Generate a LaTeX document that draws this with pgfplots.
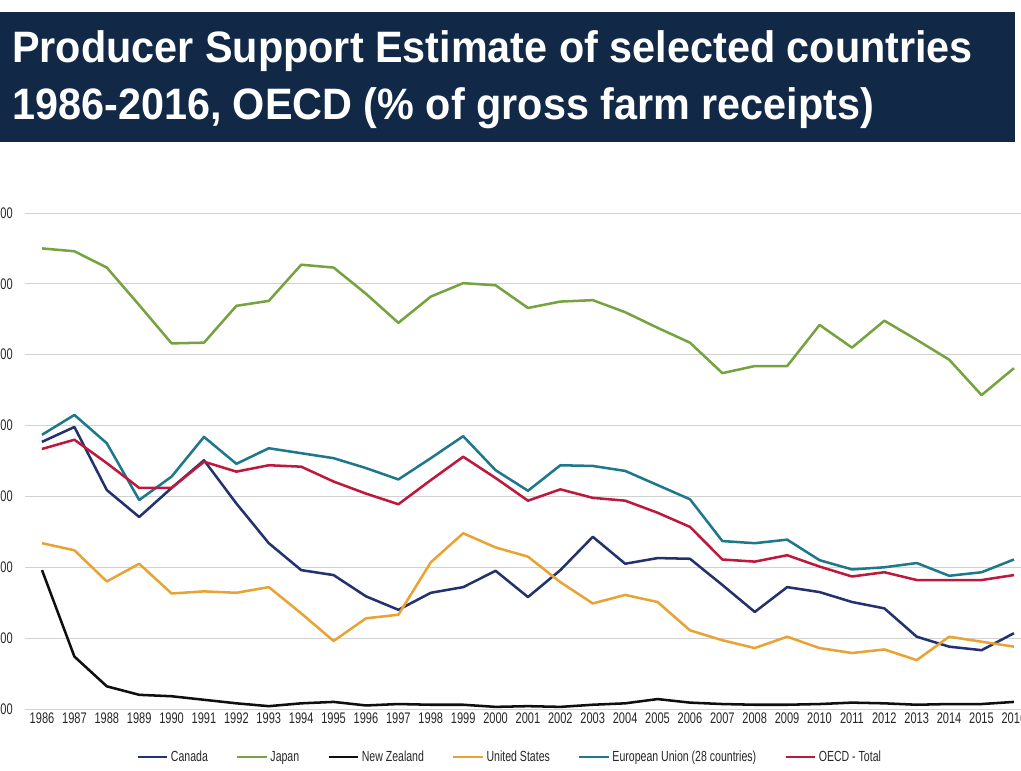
\documentclass[border=0pt]{standalone}
\usepackage{fontspec}
\setmainfont{Liberation Sans}
\newfontfamily\narrowfont{Liberation Sans}[FakeStretch=0.72]
\newfontfamily\titlefont{Liberation Sans}[FakeStretch=0.94]
\usepackage{pgfplots}
\pgfplotsset{compat=1.18}
\usepackage{pgfplotstable}

\definecolor{titlenavy}{RGB}{17,41,71}
\definecolor{cancol}{RGB}{35,50,110}
\definecolor{jpncol}{RGB}{118,163,63}
\definecolor{nzlcol}{RGB}{15,15,15}
\definecolor{usacol}{RGB}{232,163,52}
\definecolor{eucol}{RGB}{30,120,140}
\definecolor{oecdcol}{RGB}{190,25,60}

% PSE, % of gross farm receipts
\pgfplotstableread{
year can  jpn  nzl  usa  eu   oecd
1986 37.7 65.0 19.6 23.4 38.7 36.7
1987 39.8 64.6 7.4  22.4 41.5 38.0
1988 30.9 62.3 3.2  18.0 37.5 34.7
1989 27.1 57.0 2.0  20.5 29.5 31.2
1990 31.2 51.6 1.8  16.3 32.8 31.2
1991 35.1 51.7 1.3  16.6 38.4 34.9
1992 29.0 56.9 0.8  16.4 34.6 33.5
1993 23.4 57.6 0.4  17.2 36.8 34.4
1994 19.6 62.7 0.8  13.5 36.1 34.2
1995 18.9 62.3 1.0  9.6  35.4 32.1
1996 15.9 58.6 0.5  12.8 34.0 30.4
1997 14.0 54.5 0.7  13.3 32.4 28.9
1998 16.4 58.2 0.6  20.7 35.4 32.3
1999 17.2 60.1 0.6  24.8 38.5 35.6
2000 19.5 59.8 0.3  22.8 33.7 32.6
2001 15.8 56.6 0.4  21.5 30.8 29.4
2002 19.6 57.5 0.3  17.9 34.4 31.0
2003 24.3 57.7 0.6  14.9 34.3 29.8
2004 20.5 56.0 0.8  16.1 33.6 29.4
2005 21.3 53.8 1.4  15.1 31.6 27.7
2006 21.2 51.7 0.9  11.1 29.6 25.7
2007 17.5 47.4 0.7  9.7  23.7 21.1
2008 13.7 48.4 0.6  8.6  23.4 20.8
2009 17.2 48.4 0.6  10.2 23.9 21.7
2010 16.5 54.2 0.7  8.6  21.0 20.1
2011 15.1 51.0 0.9  7.9  19.7 18.7
2012 14.2 54.8 0.8  8.4  20.0 19.3
2013 10.2 52.1 0.6  6.9  20.6 18.2
2014 8.8  49.3 0.7  10.2 18.8 18.2
2015 8.3  44.3 0.7  9.5  19.3 18.2
2016 10.7 48.1 1.0  8.8  21.1 18.9
}\psedata

\begin{document}
\begin{tikzpicture}
\useasboundingbox (0,0) rectangle (765.75pt,578.25pt);
\fill[titlenavy] (0,471.75pt) rectangle (761.25pt,569.25pt);
\node[anchor=base west, inner sep=0pt, text=white,
      font=\titlefont\bfseries\fontsize{33}{33}\selectfont]
  at (9pt,531pt) {Producer Support Estimate of selected countries};
\node[anchor=base west, inner sep=0pt, text=white,
      font=\titlefont\bfseries\fontsize{33}{33}\selectfont]
  at (9pt,488.5pt) {1986-2016, OECD (\% of gross farm receipts)};

\begin{axis}[
    at={(18.75pt,46.5pt)}, anchor=south west,
    scale only axis, width=756.3pt, height=372pt,
    xmin=1985.475, xmax=2016.6, ymin=0, ymax=70,
    axis line style={draw=none},
    tick style={draw=none},
    xtick={1986,...,2016}, ytick={0,10,...,70},
    ymajorgrids,
    major grid style={line width=0.7pt, black!18},
    /pgf/number format/assume math mode=true,
    /pgf/number format/1000 sep={},
    xticklabel style={font=\narrowfont\fontsize{11.5}{11.5}\selectfont,
        inner sep=0pt, text=black!85},
    xticklabel shift=3pt,
    yticklabel style={/pgf/number format/.cd, fixed, fixed zerofill,
        precision=2, /tikz/.cd,
        font=\narrowfont\fontsize{11.5}{11.5}\selectfont,
        inner sep=0pt, text=black!85},
    yticklabel shift=9pt,
    every axis plot/.append style={line width=1.9pt, line join=round},
    legend columns=6,
    legend style={draw=none, fill=none,
        at={(axis description cs:0.481,-0.097)}, anchor=center,
        font=\narrowfont\fontsize{11}{11}\selectfont, text=black!85,
        /tikz/every even column/.append style={column sep=19pt}},
    legend image code/.code={\draw[#1] (0pt,0pt) -- (22pt,0pt);},
]
\addplot[cancol]  table[x=year, y=can]  {\psedata};
\addlegendentry{Canada}
\addplot[jpncol]  table[x=year, y=jpn]  {\psedata};
\addlegendentry{Japan}
\addplot[nzlcol]  table[x=year, y=nzl]  {\psedata};
\addlegendentry{New Zealand}
\addplot[usacol]  table[x=year, y=usa]  {\psedata};
\addlegendentry{United States}
\addplot[eucol]   table[x=year, y=eu]   {\psedata};
\addlegendentry{European Union (28 countries)}
\addplot[oecdcol] table[x=year, y=oecd] {\psedata};
\addlegendentry{OECD - Total}
\end{axis}
\end{tikzpicture}
\end{document}
